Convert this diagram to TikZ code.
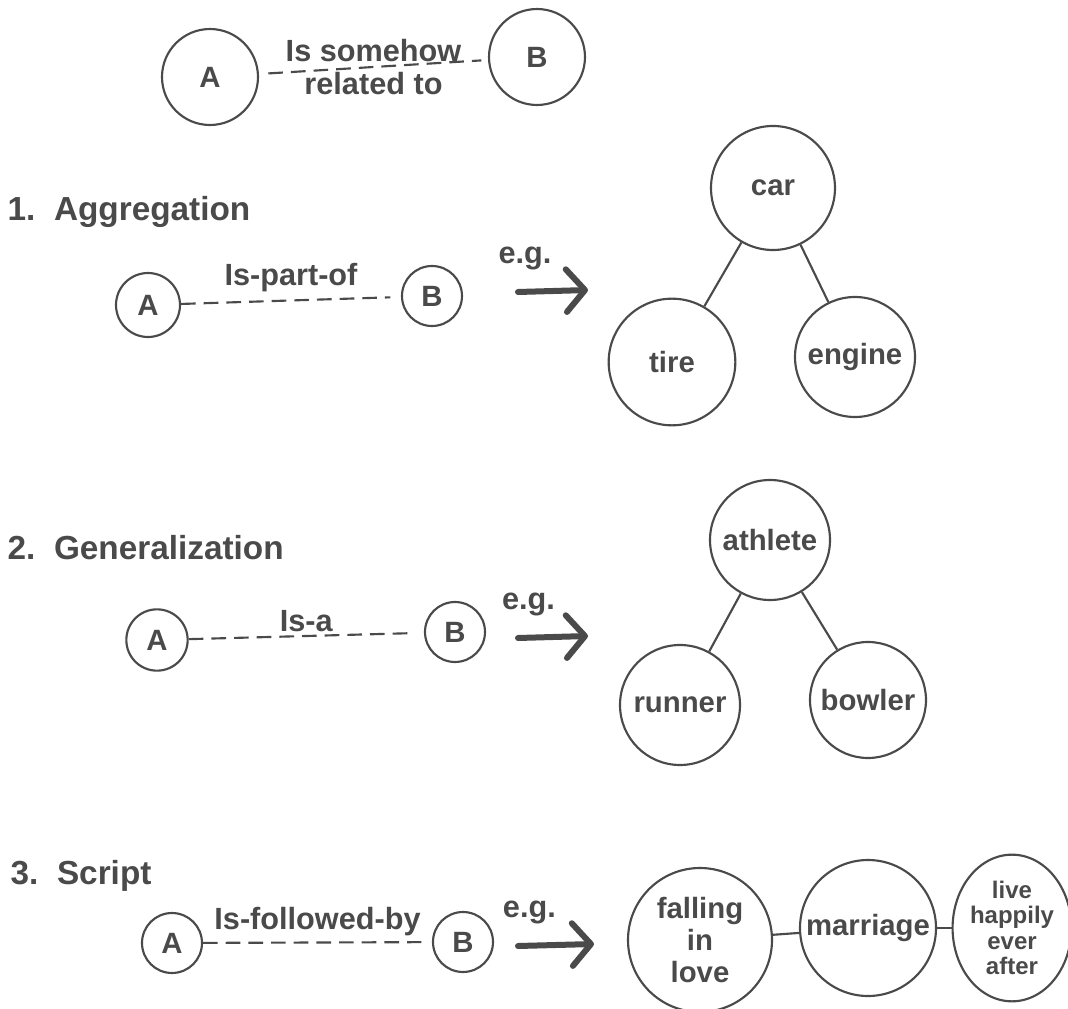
\documentclass[tikz,border=0pt]{standalone}
\usepackage{fontspec}
\setmainfont{Liberation Sans}
\usetikzlibrary{arrows.meta}
\usetikzlibrary{shapes.geometric}
\definecolor{ink}{HTML}{4A4A4A}
\tikzset{
  concept/.style={circle, draw=ink, line width=1.6pt, inner sep=0pt, minimum size=#1,
    align=center, text=ink, font=\bfseries\fontsize{22}{24}\selectfont},
  label/.style={text=ink, inner sep=0pt, font=\bfseries\fontsize{23}{24}\selectfont},
  heading/.style={anchor=west, text=ink, font=\bfseries\fontsize{25}{26}\selectfont},
  rel/.style={draw=ink, line width=1.6pt, dash pattern=on 11pt off 6pt},
  link/.style={draw=ink, line width=1.6pt},
  egarrow/.style={draw=ink, line width=4.5pt, line cap=round,
    -{Straight Barb[length=14pt,width=32pt,line width=4.5pt,round]}}
}
\begin{document}
\begin{tikzpicture}[x=0.75pt, y=-0.75pt]
\useasboundingbox (0,0) rectangle (1068,1009);

% general relation
\node[concept=72pt] (a0) at (210,77) {A};
\node[concept=72pt] (b0) at (537,57) {B};
\draw[rel, shorten <=7pt, shorten >=5pt] (a0) -- node[label, above=3pt]{Is somehow} node[label, below=3pt]{related to} (b0);

% 1. aggregation
\node[heading] (h1) at (3,212) {1.\ \ Aggregation};
\node[concept=48pt] (a1) at (148,305) {A};
\node[concept=45pt] (b1) at (432,296) {B};
\draw[rel, shorten >=8pt] (a1) -- node[label, above=6pt]{Is-part-of} (b1);
\coordinate (s1) at (518,292);
\coordinate (t1) at (588,290);
\draw[egarrow] (s1) -- node[label, above=14pt, pos=0.1]{e.g.} (t1);
\node[concept=93pt] (car) at (773,188) {car};
\node[concept=95pt] (tire) at (672,362) {tire};
\node[concept=90pt] (engine) at (855,357) {engine};
\draw[link] (car) -- (tire);
\draw[link] (car) -- (engine);

% 2. generalization
\node[heading] (h2) at (3,548) {2.\ \ Generalization};
\node[concept=46pt] (a2) at (157,640) {A};
\node[concept=45pt] (b2) at (455,632) {B};
\draw[rel, shorten >=8pt] (a2) -- node[label, above=2pt]{Is-a} (b2);
\coordinate (s2) at (518,638);
\coordinate (t2) at (588,636);
\draw[egarrow] (s2) -- node[label, above=14pt, pos=0.15]{e.g.} (t2);
\node[concept=90pt] (athlete) at (770,540) {athlete};
\node[concept=90pt] (runner) at (680,705) {runner};
\node[concept=87pt] (bowler) at (868,700) {bowler};
\draw[link] (athlete) -- (runner);
\draw[link] (athlete) -- (bowler);

% 3. script
\node[heading] (h3) at (6,876) {3.\ \ Script};
\node[concept=45pt] (a3) at (172,943) {A};
\node[concept=45pt] (b3) at (463,942) {B};
\draw[rel, shorten >=8pt] (a3) -- node[label, above=4pt]{Is-followed-by} (b3);
\coordinate (s3) at (518,946);
\coordinate (t3) at (594,944);
\draw[egarrow] (s3) -- node[label, above=14pt, pos=0.15]{e.g.} (t3);
\node[concept=108pt] (love) at (700,940) {falling\\in\\love};
\node[concept=102pt] (marriage) at (868,928) {marriage};
\node[ellipse, draw=ink, line width=1.6pt, inner sep=0pt, minimum width=81pt, minimum height=110pt,
  align=center, text=ink, font=\bfseries\fontsize{18}{19}\selectfont] (after) at (1012,928) {live\\happily\\ever\\after};
\draw[link] (love) -- (marriage);
\draw[link] (marriage) -- (after);

\end{tikzpicture}
\end{document}
